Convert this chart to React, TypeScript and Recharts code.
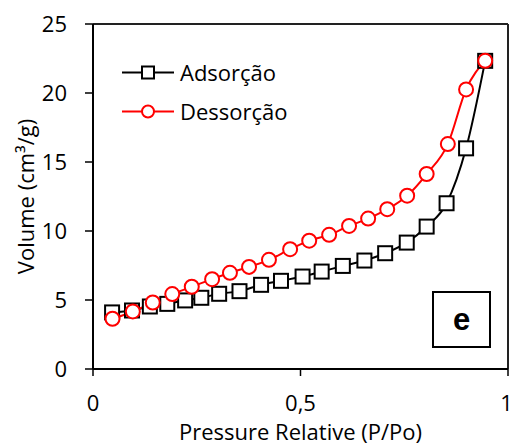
import { LineChart, Line, XAxis, YAxis, ReferenceLine, Legend } from "recharts";

// relative pressure (P/Po) and adsorbed volume (cm3/g)
const pressureAds = [0.046, 0.094, 0.137, 0.179, 0.222, 0.261, 0.304, 0.353, 0.405, 0.453, 0.505, 0.551, 0.602, 0.654, 0.704, 0.756, 0.804, 0.852, 0.899, 0.945];
const volumeAds = [4.1, 4.24, 4.53, 4.72, 4.97, 5.16, 5.45, 5.64, 6.1, 6.39, 6.7, 7.06, 7.47, 7.86, 8.39, 9.16, 10.32, 12.01, 15.99, 22.33];

const pressureDes = [0.047, 0.096, 0.144, 0.191, 0.238, 0.287, 0.33, 0.376, 0.424, 0.475, 0.521, 0.569, 0.617, 0.663, 0.709, 0.757, 0.804, 0.855, 0.899, 0.945];
const volumeDes = [3.64, 4.17, 4.82, 5.43, 5.96, 6.51, 6.97, 7.4, 7.91, 8.68, 9.3, 9.72, 10.37, 10.9, 11.58, 12.56, 14.13, 16.3, 20.26, 22.33];

const xTicks = [0, 0.5, 1];
const yTicks = [0, 5, 10, 15, 20, 25];

const adsData = pressureAds.map((p, i) => ({ p, v: volumeAds[i] }));
const desData = pressureDes.map((p, i) => ({ p, v: volumeDes[i] }));

const FONT = "'Open Sans', sans-serif";
const RED = "#ff0000";

const SquareDot = (props: any) => {
  const { cx, cy, index } = props;
  if (cx == null || cy == null) return null;
  return <rect key={`sq-${index}`} x={cx - 7} y={cy - 7} width={14} height={14} fill="#fff" stroke="#000" strokeWidth={2} />;
};

const CircleDot = (props: any) => {
  const { cx, cy, index } = props;
  if (cx == null || cy == null) return null;
  return <circle key={`ci-${index}`} cx={cx} cy={cy} r={7} fill="#fff" stroke={RED} strokeWidth={2} />;
};

const LegendBox = () => {
  const rows = [
    { name: "Adsorção", color: "#000", square: true },
    { name: "Dessorção", color: RED, square: false },
  ];
  return (
    <div style={{ fontFamily: FONT, fontSize: 22, color: "#000" }}>
      {rows.map((r) => (
        <div key={r.name} style={{ display: "flex", alignItems: "center", height: 39 }}>
          <svg width={58} height={39}>
            <line x1={2} x2={54} y1={19.5} y2={19.5} stroke={r.color} strokeWidth={2} />
            {r.square ? (
              <rect x={22} y={13.5} width={12} height={12} fill="#fff" stroke="#000" strokeWidth={2} />
            ) : (
              <circle cx={28} cy={19.5} r={6} fill="#fff" stroke={RED} strokeWidth={2} />
            )}
          </svg>
          <span style={{ marginLeft: 2, lineHeight: "39px" }}>{r.name}</span>
        </div>
      ))}
    </div>
  );
};

const YTitle = () => (
  <text
    x={25}
    y={196.5}
    transform="rotate(-90 25 196.5)"
    textAnchor="middle"
    dominantBaseline="central"
    fontFamily={FONT}
    fontSize={22}
    fill="#000"
  >
    Volume (cm³/g)
  </text>
);

export default function App() {
  return (
    <div style={{ position: "absolute", left: 0, top: 0, width: 512, height: 445, background: "#fff" }}>
      <LineChart width={512} height={445} margin={{ top: 24, right: 4, left: 0, bottom: 0 }}>
        <XAxis
          dataKey="p"
          type="number"
          domain={[0, 1]}
          ticks={xTicks}
          tickFormatter={(v: number) => String(v).replace(".", ",")}
          height={76}
          axisLine={{ stroke: "#000", strokeWidth: 2 }}
          tickLine={{ stroke: "#000", strokeWidth: 1.5 }}
          tickSize={7}
          tickMargin={19}
          tick={{ fill: "#000", fontSize: 22, fontFamily: FONT }}
          label={{ value: "Pressure Relative (P/Po)", position: "insideBottom", offset: 5, fill: "#000", fontSize: 22, fontFamily: FONT }}
        />
        <YAxis
          dataKey="v"
          type="number"
          domain={[0, 25]}
          ticks={yTicks}
          width={93}
          axisLine={{ stroke: "#000", strokeWidth: 2 }}
          tickLine={{ stroke: "#000", strokeWidth: 1.5 }}
          tickSize={8}
          tickMargin={18}
          tick={{ fill: "#000", fontSize: 22, fontFamily: FONT }}
          label={<YTitle />}
        />
        <ReferenceLine y={25} stroke="#222" strokeWidth={2} />
        <ReferenceLine x={1} stroke="#222" strokeWidth={2} />
        <Legend
          layout="vertical"
          align="center"
          verticalAlign="middle"
          content={<LegendBox />}
          wrapperStyle={{ left: 120, top: 53, width: 220, height: 78 }}
        />
        <Line
          data={adsData}
          dataKey="v"
          name="Adsorção"
          type="monotone"
          stroke="#000"
          strokeWidth={2}
          dot={SquareDot}
          activeDot={false}
          isAnimationActive={false}
        />
        <Line
          data={desData}
          dataKey="v"
          name="Dessorção"
          type="monotone"
          stroke={RED}
          strokeWidth={2}
          dot={CircleDot}
          activeDot={false}
          isAnimationActive={false}
        />
      </LineChart>
      <div
        style={{
          position: "absolute",
          left: 432,
          top: 291,
          width: 59,
          height: 57,
          border: "2px solid #000",
          boxSizing: "border-box",
          display: "flex",
          alignItems: "center",
          justifyContent: "center",
          fontFamily: "'Liberation Sans', Arial, sans-serif",
          fontWeight: "bold",
          fontSize: 31,
          color: "#000",
          background: "#fff",
        }}
      >
        e
      </div>
    </div>
  );
}
